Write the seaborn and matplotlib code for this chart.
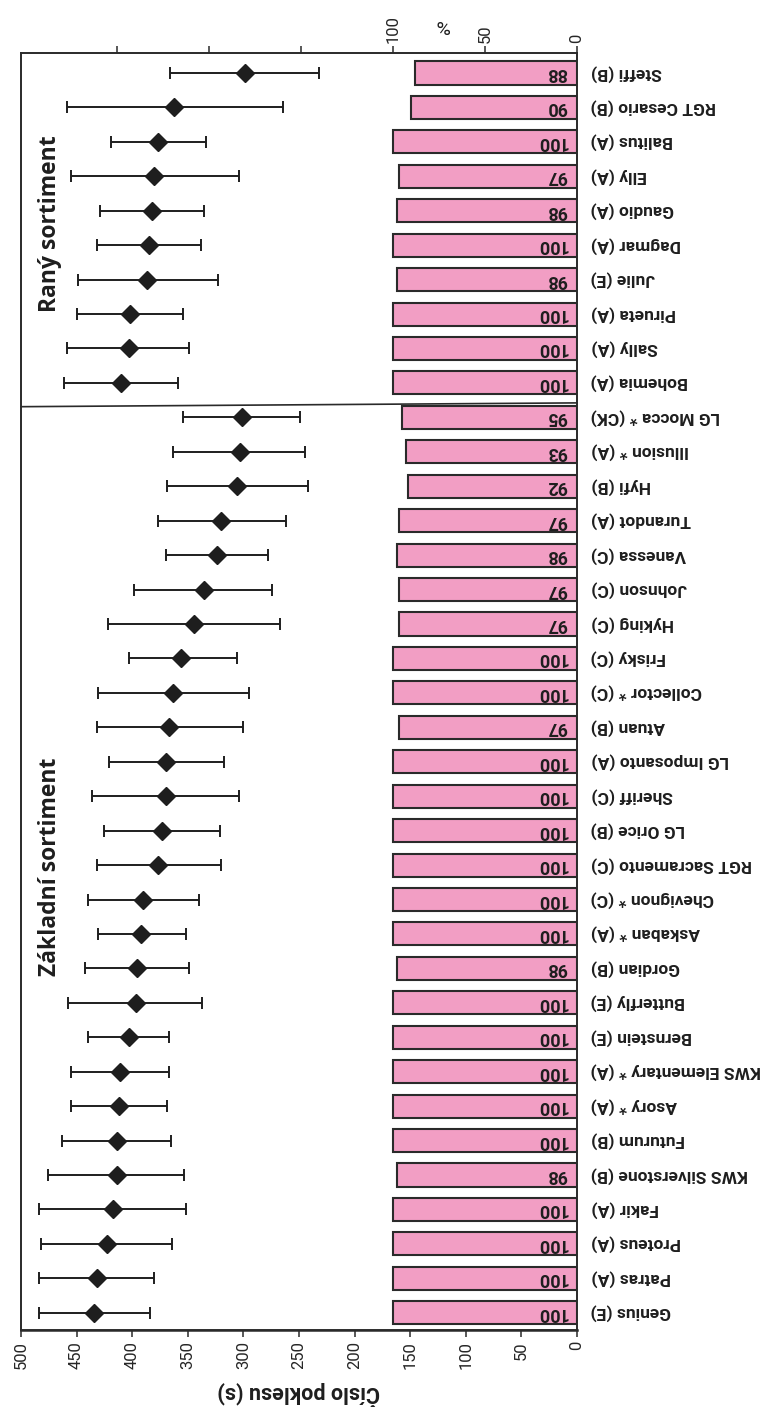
import matplotlib
matplotlib.use("Agg")
import matplotlib.pyplot as plt
import seaborn as sns
import pandas as pd

# ── Data (top row first, as drawn) ──────────────────────────────────────────
odrudy = [
    "Steffi (B)", "RGT Cesario (B)", "Balitus (A)", "Elly (A)", "Gaudio (A)",
    "Dagmar (A)", "Julie (E)", "Pirueta (A)", "Sally (A)", "Bohemia (A)",
    "LG Mocca * (CK)", "Illusion * (A)", "Hyfi (B)", "Turandot (A)", "Vanessa (C)",
    "Johnson (C)", "Hyking (C)", "Frisky (C)", "Collector * (C)", "Atuan (B)",
    "LG Imposanto (A)", "Sheriff (C)", "LG Orice (B)", "RGT Sacramento (C)",
    "Chevignon * (C)", "Askaban * (A)", "Gordian (B)", "Butterfly (E)",
    "Bernstein (E)", "KWS Elementary * (A)", "Asory * (A)", "Futurum (B)",
    "KWS Silverstone (B)", "Fakir (A)", "Proteus (A)", "Patras (A)", "Genius (E)",
]
cislo_poklesu = [
    299, 362, 377, 380, 382, 385, 387, 402, 403, 410,
    301, 303, 306, 320, 324, 335, 344, 356, 363, 367,
    370, 370, 373, 377, 390, 392, 396, 397, 403, 411,
    412, 414, 414, 417, 423, 432, 434,
]
cp_min = [
    232, 264, 334, 304, 335, 338, 323, 354, 349, 359,
    249, 245, 242, 262, 278, 274, 267, 306, 295, 300,
    317, 304, 321, 320, 340, 352, 349, 337, 367, 367,
    369, 365, 353, 352, 364, 380, 384,
]
cp_max = [
    366, 459, 419, 455, 429, 432, 449, 450, 459, 461,
    354, 363, 369, 377, 370, 398, 422, 403, 431, 432,
    421, 436, 425, 432, 440, 431, 442, 458, 440, 455,
    455, 463, 476, 484, 482, 484, 484,
]
procenta = [
    88, 90, 100, 97, 98, 100, 98, 100, 100, 100,
    95, 93, 92, 97, 98, 97, 97, 100, 100, 97,
    100, 100, 100, 100, 100, 100, 98, 100, 100, 100,
    100, 100, 98, 100, 100, 100, 100,
]
vykon_ticks = list(range(0, 501, 50))
proc_ticks = [0, 50, 100, 150, 200, 250]
proc_labels = ["0", "50", "100", "", "", ""]

# ── Style ───────────────────────────────────────────────────────────────────
sns.set_style("white")
plt.rcParams["font.family"] = ["Roboto", "DejaVu Sans"]

PINK = "#F29EC4"
DARK = "#1e1e1e"
SPINE = "#2a2a2a"

df = pd.DataFrame({"odruda": odrudy, "procenta": procenta})
pos = list(range(len(odrudy)))

fig = plt.figure(figsize=(7.6, 14.07), dpi=100)
ax = fig.add_axes([21 / 760, 77 / 1407, 556 / 760, 1277 / 1407])
ax2 = ax.twiny()

# bars (% scale, top axis)
sns.barplot(data=df, x="procenta", y="odruda", order=odrudy, orient="h",
            color=PINK, edgecolor=SPINE, linewidth=1.5, width=0.67,
            saturation=1, ax=ax2)
ax2.set_xlim(302.2, 0)
ax2.set_xlabel("")
ax2.set_ylabel("")
ax2.xaxis.tick_top()
ax2.set_xticks(proc_ticks)
ax2.set_xticklabels(proc_labels, rotation=90, fontsize=12)
ax2.tick_params(axis="x", direction="out", length=5, width=1.1, color=SPINE, pad=2)
for i, v in enumerate(procenta):
    ax2.annotate(str(v), xy=(0, i), xytext=(-7, 0), textcoords="offset points",
                 rotation=180, ha="right", va="center", fontsize=13,
                 fontweight="bold", color=DARK)
fig.text(442 / 760, 1 - 25 / 1407, "%", rotation=180, ha="center", va="center",
         fontsize=14, color=DARK)

# means with min/max whiskers (value scale, bottom axis)
xerr = [[m - lo for m, lo in zip(cislo_poklesu, cp_min)],
        [hi - m for m, hi in zip(cislo_poklesu, cp_max)]]
ax.errorbar(cislo_poklesu, pos, xerr=xerr, fmt="D", color=DARK, ms=9,
            ecolor=DARK, elinewidth=1.4, capsize=4, capthick=1.4, zorder=3)
ax.set_xlim(500, 0)
ax.set_xticks(vykon_ticks)
ax.set_xticklabels([str(t) for t in vykon_ticks], rotation=90, fontsize=12)
ax.tick_params(axis="x", direction="out", length=5, width=1.1, color=SPINE, pad=3)
ax.set_xlabel("Číslo poklesu (s)", rotation=180, fontsize=15.5, fontweight="bold",
              color=DARK)
ax.xaxis.set_label_coords(0.5, -0.040)

# category labels on the right
ax.yaxis.tick_right()
ax.set_yticks(pos)
ax.set_yticklabels(odrudy, rotation=180, ha="left", va="center", fontsize=12.5,
                   fontweight="bold", color=DARK)
ax.tick_params(axis="y", length=0, pad=10)
ax2.yaxis.set_visible(False)
ax.set_ylim(len(odrudy) - 0.5, -0.58)

# divider between groups and group titles
ax.plot([500, 0], [9.69, 9.58], color=SPINE, lw=1.2, clip_on=False, zorder=2)
ax.text(474, 4.38, "Raný sortiment", rotation=90, ha="center", va="center",
        fontsize=16.5, fontweight="bold", family=["Open Sans", "DejaVu Sans"],
        color=DARK)
ax.text(474, 23.05, "Základní sortiment", rotation=90, ha="center", va="center",
        fontsize=16.5, fontweight="bold", family=["Open Sans", "DejaVu Sans"],
        color=DARK)

for a in (ax, ax2):
    for s in a.spines.values():
        s.set_visible(True)
        s.set_color(SPINE)
        s.set_linewidth(1.2)
ax.spines["bottom"].set_linewidth(1.8)

fig.savefig("out.png", dpi=100)
